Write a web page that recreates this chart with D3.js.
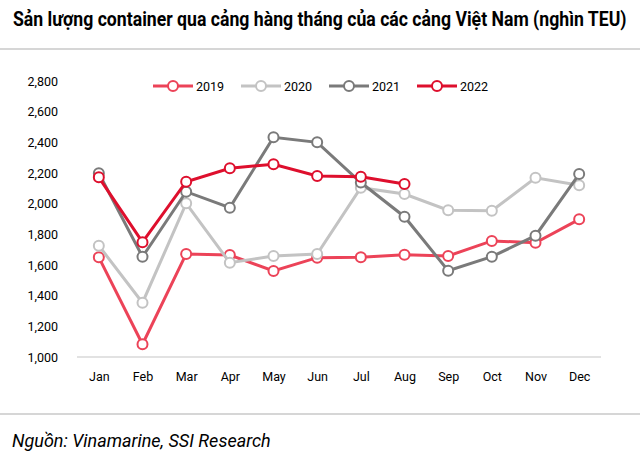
<!DOCTYPE html>
<html><head><meta charset="utf-8">
<script src="https://cdn.jsdelivr.net/npm/d3@7"></script>
<style>
body{margin:0;background:#fff;}
svg text{font-family:"Liberation Sans Narrow","Arial Narrow",Roboto,"Liberation Sans",sans-serif;}
</style></head>
<body><svg id="c" width="640" height="464"></svg>
<script>
const months = ["Jan","Feb","Mar","Apr","May","Jun","Jul","Aug","Sep","Oct","Nov","Dec"];
const y2019 = [1650,1083,1672,1665,1561,1648,1650,1667,1659,1757,1745,1898];
const y2020 = [1726,1354,2002,1615,1659,1672,2104,2063,1957,1954,2169,2120];
const y2021 = [2198,1654,2078,1974,2433,2400,2138,1915,1563,1654,1791,2193];
const y2022 = [2172,1749,2143,2231,2257,2180,2176,2128];
const seriesNames = ["2019","2020","2021","2022"];
const seriesColors = ["#ec4358","#c3c3c3","#7a7a7a","#de0f2d"];
const yTicks = [1000,1200,1400,1600,1800,2000,2200,2400,2600,2800];

const svg = d3.select("#c");
const series = [y2019,y2020,y2021,y2022];

const title = svg.append("text").attr("x",0).attr("y",0).attr("font-size",19.5).attr("font-weight","bold").attr("fill","#000")
  .text("Sản lượng container qua cảng hàng tháng của các cảng Việt Nam (nghìn TEU)");
const tw = title.node().getComputedTextLength();
title.attr("transform",`translate(13,26) scale(${Math.min(1,614/tw)},1)`);

svg.append("line").attr("x1",0).attr("x2",640).attr("y1",49).attr("y2",49).attr("stroke","#c8c8c8").attr("stroke-width",1.5);
svg.append("line").attr("x1",0).attr("x2",640).attr("y1",414).attr("y2",414).attr("stroke","#c8c8c8").attr("stroke-width",1.5);
svg.append("text").attr("x",12).attr("y",447).attr("font-size",18).attr("font-style","italic").attr("fill","#000")
  .text("Nguồn: Vinamarine, SSI Research");

const x = d3.scalePoint().domain(months).range([77,601]).padding(0.5);
const y = d3.scaleLinear().domain([1000,2800]).range([357,81]);

const ya = svg.append("g").attr("transform","translate(58,0)")
  .call(d3.axisLeft(y).tickValues(yTicks).tickSize(0).tickPadding(0).tickFormat(d3.format(",")));
ya.select(".domain").remove();
ya.selectAll("text").attr("font-size",12.5).attr("fill","#000").style("font-family",null);

const xa = svg.append("g").attr("transform","translate(0,357)")
  .call(d3.axisBottom(x).tickSize(0).tickPadding(15));
xa.select(".domain").attr("stroke","#d9d9d9").attr("stroke-width",1.5).attr("d","M77,0H601");
xa.selectAll("text").attr("font-size",12.5).attr("fill","#000").style("font-family",null);

const line = d3.line().x((d,i)=>x(months[i])).y(d=>y(d));
series.forEach((s,k)=>{
  const g = svg.append("g");
  g.append("path").attr("d",line(s)).attr("fill","none").attr("stroke",seriesColors[k]).attr("stroke-width",3);
  g.selectAll("circle").data(s).join("circle")
    .attr("cx",(d,i)=>x(months[i])).attr("cy",d=>y(d)).attr("r",5)
    .attr("fill","#fff").attr("stroke",seriesColors[k]).attr("stroke-width",2);
});

const legX = [153,241,329,417];
seriesNames.forEach((n,k)=>{
  const g = svg.append("g").attr("transform",`translate(${legX[k]},86)`);
  g.append("line").attr("x1",0).attr("x2",40).attr("stroke",seriesColors[k]).attr("stroke-width",3);
  g.append("circle").attr("cx",20).attr("r",5).attr("fill","#fff").attr("stroke",seriesColors[k]).attr("stroke-width",2);
  g.append("text").attr("x",43).attr("y",5).attr("font-size",12.5).attr("fill","#000").text(n);
});
</script></body></html>
